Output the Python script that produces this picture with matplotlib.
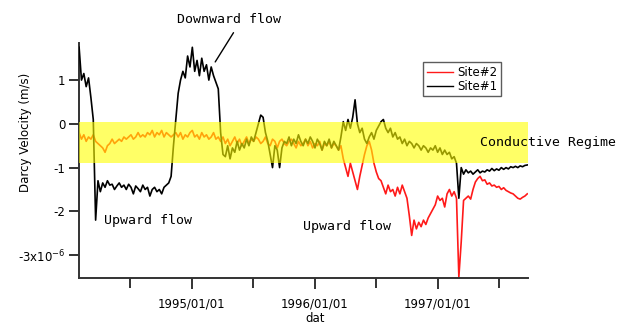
import numpy as np
import pandas as pd
import matplotlib
matplotlib.use('Agg')
import matplotlib.pyplot as plt
from matplotlib.ticker import FixedLocator, FuncFormatter

# weekly samples starting 1994/02/01
DATA_INICIO = '1994-02-01'
PASSO = '7D'

site1 = [
    1.75, 1.0, 1.15, 0.85, 1.05, 0.6, 0.1, -2.2, -1.3, -1.55,
    -1.35, -1.45, -1.3, -1.4, -1.38, -1.5, -1.42, -1.35, -1.45, -1.4,
    -1.5, -1.38, -1.45, -1.6, -1.42, -1.48, -1.55, -1.4, -1.5, -1.45,
    -1.65, -1.5, -1.45, -1.55, -1.5, -1.6, -1.45, -1.4, -1.35, -1.2,
    -0.5, 0.1, 0.7, 1.0, 1.2, 1.05, 1.55, 1.3, 1.75, 1.2,
    1.45, 1.1, 1.5, 1.2, 1.35, 1.0, 1.3, 1.1, 0.95, 0.8,
    -0.2, -0.7,
    -0.75, -0.5, -0.8, -0.55, -0.65, -0.4, -0.6, -0.45, -0.55, -0.35,
    -0.5, -0.3, -0.4, -0.2, 0.0, 0.2,
    0.15, -0.2, -0.4, -0.7, -1.0, -0.5, -0.6, -1.0, -0.55, -0.4,
    -0.45, -0.3, -0.5, -0.35, -0.45, -0.25, -0.4, -0.5, -0.35, -0.45,
    -0.3, -0.4, -0.55, -0.35, -0.45, -0.6, -0.4, -0.5, -0.35, -0.55,
    -0.4, -0.5, -0.6,
    -0.3, 0.05, -0.15, 0.1, -0.1, 0.15, 0.55, 0.0, -0.2, -0.1,
    -0.35, -0.45, -0.3, -0.2, -0.35, -0.15, -0.05, 0.05, 0.1, -0.1,
    -0.2, -0.1, -0.3, -0.2, -0.35, -0.3, -0.45, -0.35, -0.5, -0.4,
    -0.45, -0.55, -0.45, -0.5, -0.6, -0.5, -0.55, -0.65, -0.55, -0.6,
    -0.5, -0.65, -0.55, -0.7, -0.6, -0.7, -0.65, -0.8, -0.75, -0.9,
    -1.7, -1.0, -1.15, -1.05, -1.12, -1.08, -1.15, -1.1, -1.05, -1.12,
    -1.08, -1.1, -1.05, -1.08, -1.02, -1.07, -1.03, -1.06, -1.0, -1.04,
    -1.0, -1.03, -0.98, -1.0, -0.97, -1.0, -0.96, -0.98, -0.95, -0.94,
]

site2 = [
    -0.2, -0.35, -0.25, -0.4, -0.3, -0.35, -0.25, -0.4, -0.45, -0.5,
    -0.55, -0.65, -0.5, -0.45, -0.35, -0.45, -0.4, -0.35, -0.4, -0.3,
    -0.35, -0.3, -0.25, -0.35, -0.3, -0.2, -0.3, -0.25, -0.3, -0.2,
    -0.25, -0.15, -0.3, -0.2, -0.25, -0.15, -0.3, -0.2, -0.25, -0.3,
    -0.25, -0.2, -0.3, -0.2, -0.35, -0.25, -0.3, -0.2, -0.15, -0.3,
    -0.25, -0.35, -0.2, -0.3, -0.25, -0.35, -0.3, -0.2, -0.35, -0.3,
    -0.4, -0.3,
    -0.45, -0.35, -0.5, -0.4, -0.3, -0.45, -0.35, -0.5, -0.4, -0.3,
    -0.45, -0.35, -0.4, -0.3, -0.35, -0.45, -0.4, -0.3, -0.45, -0.5,
    -0.35, -0.4, -0.55, -0.4, -0.35, -0.45, -0.5, -0.4, -0.35, -0.45,
    -0.55, -0.4, -0.5, -0.45, -0.35, -0.5, -0.4, -0.55, -0.45, -0.5,
    -0.4, -0.6, -0.45, -0.5, -0.4, -0.55, -0.45, -0.5, -0.6,
    -0.5, -0.8, -1.0, -1.2, -0.9, -1.1, -1.3, -1.5, -1.2, -0.95,
    -0.7, -0.5, -0.4, -0.6, -0.9, -1.1, -1.25, -1.3, -1.45, -1.6,
    -1.4, -1.55, -1.5, -1.65, -1.45, -1.6, -1.4, -1.55, -1.7, -2.1,
    -2.55, -2.2, -2.4, -2.25, -2.35, -2.2, -2.3, -2.15, -2.05, -1.95,
    -1.85, -1.65, -1.75, -1.7, -1.9, -1.6, -1.5, -1.65, -1.55, -1.7,
    -3.5, -2.7, -1.75, -1.7, -1.65, -1.72, -1.5, -1.33, -1.25, -1.2,
    -1.3, -1.28, -1.38, -1.35, -1.42, -1.4, -1.45, -1.43, -1.5, -1.46,
    -1.52, -1.55, -1.58, -1.6, -1.65, -1.7, -1.72, -1.68, -1.65, -1.6,
]

faixa_regime = (-0.9, 0.05)
rotulos_y = [1, 0, -1, -2, -3]
anos_x = ['1995-01-01', '1996-01-01', '1997-01-01']
meios_x = ['1994-07-01', '1995-07-01', '1996-07-01', '1997-07-01']


def formatar_y(v, pos):
    if v == -3:
        return r'-3x10$^{-6}$'
    return '%d' % v


datas1 = pd.date_range(DATA_INICIO, periods=len(site1), freq=PASSO)
datas2 = pd.date_range(DATA_INICIO, periods=len(site2), freq=PASSO)

fig = plt.figure(figsize=(6.38, 3.25), dpi=100)
ax = fig.add_axes([0.124, 0.145, 0.704, 0.723])

ax.plot(datas2, site2, color='#ff1a1a', lw=1.2, label='Site#2', zorder=2)
ax.plot(datas1, site1, color='black', lw=1.2, label='Site#1', zorder=3)

# faixa amarela por cima das linhas (deixa laranja / oliva)
ax.axhspan(faixa_regime[0], faixa_regime[1], color='#ffff00', alpha=0.6, lw=0, zorder=4)

ax.set_xlim(datas1[0], datas1[-1] + pd.Timedelta(days=3))
ax.set_ylim(-3.52, 1.85)

ax.spines['top'].set_visible(False)
ax.spines['right'].set_visible(False)
for s in ['left', 'bottom']:
    ax.spines[s].set_color('#333333')
    ax.spines[s].set_linewidth(1.4)

ax.yaxis.set_major_locator(FixedLocator(rotulos_y))
ax.yaxis.set_major_formatter(FuncFormatter(formatar_y))

# ticks de data: anos com rotulo, meio do ano sem rotulo
ax.set_xticks(pd.to_datetime(anos_x))
ax.set_xticklabels([d.replace('-', '/') for d in anos_x])
ax.set_xticks(pd.to_datetime(meios_x), minor=True)

ax.tick_params(axis='y', which='major', direction='out', length=7, width=1.4,
               color='#333333', labelsize=8.5, pad=3)
ax.tick_params(axis='x', which='major', direction='out', length=8, width=1.4,
               color='#333333', labelsize=8.5, pad=6)
ax.tick_params(axis='x', which='minor', direction='out', length=7, width=1.4,
               color='#333333')

ax.set_ylabel('Darcy Velocity (m/s)', fontsize=8.5, labelpad=4)
ax.set_xlabel('dat', fontsize=8.5, labelpad=0)
ax.xaxis.set_label_coords(0.526, -0.145)
ax.yaxis.set_label_coords(-0.105, 0.62)

mono = 'DejaVu Sans Mono'
ax.annotate('Downward flow', xy=(0.303, 0.919), xycoords='axes fraction',
            xytext=(0.334, 1.098), textcoords='axes fraction',
            ha='center', va='center', fontsize=9.5, family=mono,
            arrowprops=dict(arrowstyle='-', color='black', lw=1.0,
                            relpos=(0.58, 0.0), shrinkA=3, shrinkB=0))
ax.text(0.056, -2.2, 'Upward flow', transform=ax.get_yaxis_transform(),
        fontsize=9.5, family=mono, va='center', ha='left')
ax.text(0.499, -2.34, 'Upward flow', transform=ax.get_yaxis_transform(),
        fontsize=9.5, family=mono, va='center', ha='left')
ax.text(0.893, -0.43, 'Conductive Regime', transform=ax.get_yaxis_transform(),
        fontsize=9.5, family=mono, va='center', ha='left', clip_on=False, zorder=5)

leg = ax.legend(loc='upper left', bbox_to_anchor=(0.766, 0.918), fontsize=8.5,
                frameon=True, fancybox=False, handlelength=2.2, handletextpad=0.4,
                borderpad=0.3, labelspacing=0.1, borderaxespad=0)
leg.get_frame().set_edgecolor('#333333')
leg.get_frame().set_linewidth(1.0)
for l in leg.get_lines():
    l.set_linewidth(1.0)

fig.savefig('out.png', dpi=100)
plt.close()
